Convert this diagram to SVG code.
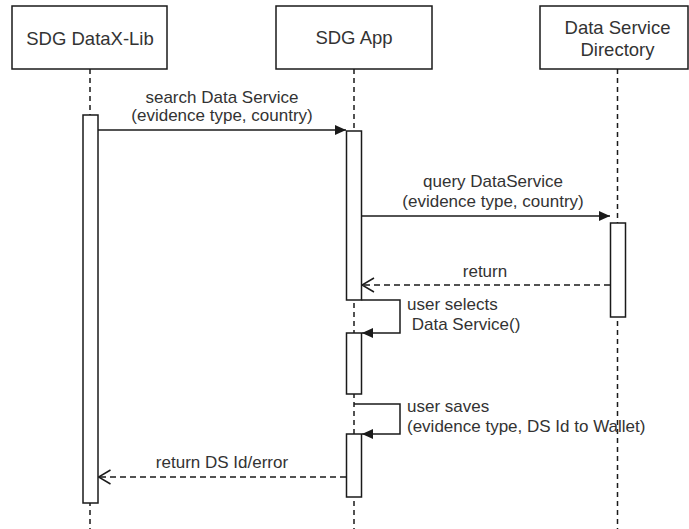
<svg xmlns="http://www.w3.org/2000/svg" width="689" height="529" viewBox="0 0 689 529">
  <style>
    .box { fill: #ffffff; stroke: #1a1a1a; stroke-width: 1.5; }
    .act { fill: #ffffff; stroke: #1a1a1a; stroke-width: 1.5; }
    .life { fill: none; stroke: #1a1a1a; stroke-width: 1.5; stroke-dasharray: 5 4; }
    .msg { fill: none; stroke: #1a1a1a; stroke-width: 1.5; }
    .ret { fill: none; stroke: #1a1a1a; stroke-width: 1.5; stroke-dasharray: 6 4; }
    .title { font-family: "Liberation Sans", Arial, sans-serif; font-size: 18.5px; fill: #333333; text-anchor: middle; }
    .label { font-family: "Liberation Sans", Arial, sans-serif; font-size: 17px; fill: #333333; }
    .mid { text-anchor: middle; }
  </style>
  <defs>
    <marker id="solidHead" markerUnits="userSpaceOnUse" markerWidth="12" markerHeight="12" refX="11" refY="6" orient="auto">
      <path d="M0,1 L11,6 L0,11 z" fill="#1a1a1a"/>
    </marker>
    <marker id="openHead" markerUnits="userSpaceOnUse" markerWidth="14" markerHeight="16" refX="13" refY="8" orient="auto">
      <path d="M1,1 L13,8 L1,15" fill="none" stroke="#1a1a1a" stroke-width="1.5"/>
    </marker>
  </defs>

  <!-- lifelines -->
  <g id="lifelines">
    <line class="life" x1="90" y1="69" x2="90" y2="529"/>
    <line class="life" x1="354" y1="69" x2="354" y2="529"/>
    <line class="life" x1="617.5" y1="69" x2="617.5" y2="529"/>
  </g>

  <!-- participants -->
  <g id="lib">
    <rect class="box" x="12" y="6" width="155" height="63"/>
    <text class="title" x="90" y="45">SDG DataX-Lib</text>
    <rect class="act" x="83" y="115" width="15" height="388"/>
  </g>
  <g id="app">
    <rect class="box" x="276" y="6" width="156" height="63"/>
    <text class="title" x="354" y="44">SDG App</text>
    <rect class="act" x="346.5" y="131" width="15" height="169"/>
    <rect class="act" x="346.5" y="333" width="15" height="61"/>
    <rect class="act" x="346.5" y="434" width="15" height="63"/>
  </g>
  <g id="directory">
    <rect class="box" x="540" y="6" width="148" height="63"/>
    <text class="title" x="617.5" y="34">Data Service</text>
    <text class="title" x="617.5" y="56">Directory</text>
    <rect class="act" x="610.5" y="223" width="15" height="94"/>
  </g>

  <!-- messages -->
  <g id="connectors">
    <line class="msg" x1="98" y1="130" x2="346" y2="130" marker-end="url(#solidHead)"/>
    <line class="msg" x1="361.5" y1="216" x2="610" y2="216" marker-end="url(#solidHead)"/>
    <line class="ret" x1="610" y1="285" x2="362" y2="285" marker-end="url(#openHead)"/>
    <path class="msg" d="M361.5,300 H400 V333 H362" marker-end="url(#solidHead)"/>
    <path class="msg" d="M354,404 H400 V434 H362" marker-end="url(#solidHead)"/>
    <line class="ret" x1="346" y1="477" x2="98.5" y2="477" marker-end="url(#openHead)"/>
  </g>

  <!-- message labels -->
  <g id="labels">
    <text class="label mid" x="222" y="103">search Data Service</text>
    <text class="label mid" x="222" y="121">(evidence type, country)</text>
    <text class="label mid" x="493" y="187">query DataService</text>
    <text class="label mid" x="493" y="207">(evidence type, country)</text>
    <text class="label mid" x="485" y="277">return</text>
    <text class="label" x="407" y="310">user selects</text>
    <text class="label" x="407" y="330" xml:space="preserve"> Data Service()</text>
    <text class="label" x="407" y="412">user saves</text>
    <text class="label" x="407" y="432">(evidence type, DS Id to Wallet)</text>
    <text class="label mid" x="222" y="468">return DS Id/error</text>
  </g>
</svg>
